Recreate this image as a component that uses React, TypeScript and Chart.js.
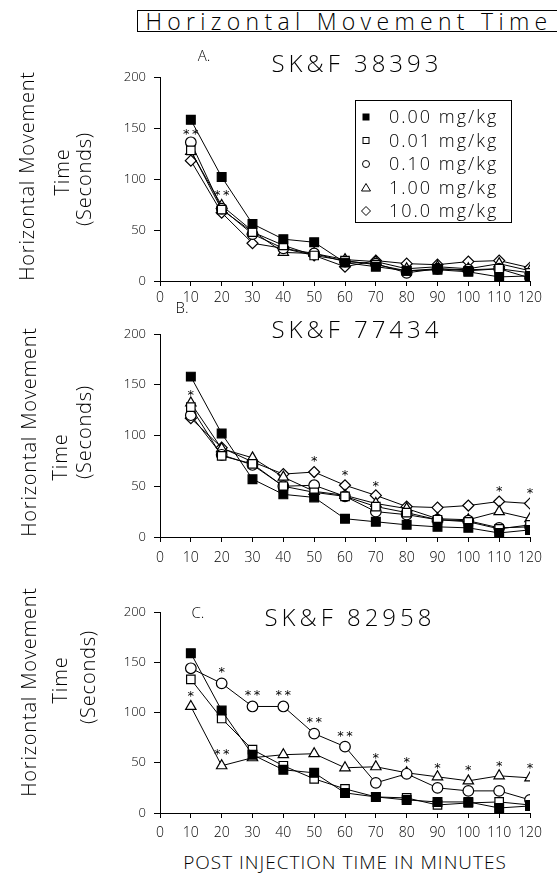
import React, { useEffect, useRef } from 'react';
import { Chart, registerables } from 'chart.js';

Chart.register(...registerables);

// ---------------- DATA ----------------
const TIMES = [10, 20, 30, 40, 50, 60, 70, 80, 90, 100, 110, 120];
const DOSE_LABELS = ['0.00 mg/kg', '0.01 mg/kg', '0.10 mg/kg', '1.00 mg/kg', '10.0 mg/kg'];

// Panel A: SK&F 38393
const A_000 = [158, 102, 56, 41, 38, 18, 14, 10, 11, 9, 4, 5];
const A_001 = [128, 70, 48, 35, 25, 20, 16, 10, 12, 10, 12, 8];
const A_010 = [136, 71, 46, 32, 27, 19, 17, 8, 12, 11, 12, 3];
const A_100 = [127, 74, 49, 28, 27, 21, 19, 12, 14, 12, 17, 10];
const A_1000 = [118, 67, 37, 32, 25, 14, 20, 17, 16, 19, 20, 13];
const A_STARS: [number, number, number][] = [[10, 146, 2], [20, 87, 2]];

// Panel B: SK&F 77434
const B_000 = [158, 102, 57, 42, 39, 18, 15, 12, 10, 9, 4, 7];
const B_001 = [128, 80, 72, 50, 44, 40, 30, 24, 17, 15, 8, 12];
const B_010 = [120, 81, 71, 50, 51, 40, 25, 22, 17, 16, 9, 10];
const B_100 = [132, 87, 78, 59, 45, 41, 33, 28, 18, 17, 25, 18];
const B_1000 = [117, 88, 74, 62, 64, 51, 41, 30, 29, 31, 35, 33];
const B_STARS: [number, number, number][] = [[10, 142, 1], [50, 77, 1], [60, 63, 1], [70, 53, 1], [110, 48, 1], [120, 46, 1]];

// Panel C: SK&F 82958
const C_000 = [159, 102, 58, 43, 40, 20, 16, 13, 11, 11, 5, 7];
const C_001 = [133, 94, 63, 47, 34, 24, 16, 15, 8, 10, 11, 8];
const C_010 = [144, 129, 106, 106, 79, 66, 30, 39, 25, 22, 22, 13];
const C_100 = [106, 47, 55, 58, 59, 45, 46, 40, 36, 32, 37, 35];
const C_STARS: [number, number, number][] = [
  [10, 119, 1], [20, 143, 1], [20, 61, 2], [30, 120, 2], [40, 120, 2], [50, 93, 2], [60, 79, 2],
  [70, 57, 1], [80, 53, 1], [90, 47, 1], [100, 45, 1], [110, 49, 1], [120, 47, 1],
];

const X_MIN = 0, X_MAX = 120, X_STEP = 10;
const Y_MIN = 0, Y_MAX = 200, Y_STEP = 50;

const MAIN_TITLE = 'Horizontal Movement Time';
const PANEL_TITLES = ['SK&F 38393', 'SK&F 77434', 'SK&F 82958'];
const PANEL_LETTERS = ['A.', 'B.', 'C.'];
const Y_TITLE = ['Horizontal Movement', 'Time', '(Seconds)'];
const X_TITLE = 'POST INJECTION TIME IN MINUTES';

// ---------------- STYLE ----------------
const FONT = '"Open Sans", "DejaVu Sans", sans-serif';
const STAR_FONT = '"DejaVu Sans", sans-serif';
const W = 557;
const MARKERS = [
  { style: 'rect', r: 6.2, fill: '#000' },
  { style: 'rect', r: 6, fill: '#fff' },
  { style: 'circle', r: 5.3, fill: '#fff' },
  { style: 'triangle', r: 6, fill: '#fff' },
  { style: 'rectRot', r: 5.5, fill: '#fff' },
];

const starsPlugin = {
  id: 'stars',
  afterDatasetsDraw(chart: any, _args: any, opts: any) {
    const { ctx } = chart;
    const x = chart.scales.x, y = chart.scales.y;
    ctx.save();
    ctx.fillStyle = '#000';
    ctx.font = `13px ${STAR_FONT}`;
    ctx.textAlign = 'center';
    ctx.textBaseline = 'middle';
    for (const [t, v, n] of (opts.items || [])) {
      const px = x.getPixelForValue(t), py = y.getPixelForValue(v);
      for (let k = 0; k < n; k++) ctx.fillText('*', px + (k - (n - 1) / 2) * 9, py + 3);
    }
    ctx.restore();
  },
};

const legendPlugin = {
  id: 'boxLegend',
  afterDraw(chart: any, _args: any, opts: any) {
    if (!opts.show) return;
    const { ctx } = chart;
    const bx = 355, by = opts.top, bw = 156, bh = 122;
    ctx.save();
    ctx.strokeStyle = '#000';
    ctx.lineWidth = 1;
    ctx.fillStyle = '#fff';
    ctx.fillRect(bx, by, bw, bh);
    ctx.strokeRect(bx + 0.5, by + 0.5, bw, bh);
    ctx.font = `300 18px ${FONT}`;
    ctx.textBaseline = 'middle';
    ctx.textAlign = 'left';
    try { (ctx as any).letterSpacing = '2px'; } catch (e) {}
    const mx = 366, tx = 389;
    DOSE_LABELS.forEach((lab, i) => {
      const yy = by + 17 + i * 23.5;
      ctx.fillStyle = '#000';
      ctx.lineWidth = 1;
      ctx.beginPath();
      if (i === 0) ctx.fillRect(mx - 3.5, yy - 3.5, 7, 7);
      else if (i === 1) ctx.strokeRect(mx - 3, yy - 3, 6, 6);
      else if (i === 2) { ctx.arc(mx, yy, 3.5, 0, Math.PI * 2); ctx.stroke(); }
      else if (i === 3) { ctx.moveTo(mx, yy - 4); ctx.lineTo(mx + 4.5, yy + 3.5); ctx.lineTo(mx - 4.5, yy + 3.5); ctx.closePath(); ctx.stroke(); }
      else { ctx.moveTo(mx, yy - 4.5); ctx.lineTo(mx + 4.5, yy); ctx.lineTo(mx, yy + 4.5); ctx.lineTo(mx - 4.5, yy); ctx.closePath(); ctx.stroke(); }
      ctx.fillText(lab, tx, yy + 1);
    });
    ctx.restore();
  },
};

type PanelProps = {
  top: number; height: number; xH: number; xPad: number;
  series: number[][]; stars: [number, number, number][]; legendTop?: number;
};

function Panel({ top, height, xH, xPad, series, stars, legendTop }: PanelProps) {
  const ref = useRef<HTMLCanvasElement>(null);
  useEffect(() => {
    const datasets = series.map((vals, i) => ({
      label: DOSE_LABELS[i],
      data: vals.map((v, j) => ({ x: TIMES[j], y: v })),
      borderColor: '#000',
      borderWidth: 1,
      pointStyle: MARKERS[i].style,
      pointRadius: MARKERS[i].r,
      pointBackgroundColor: MARKERS[i].fill,
      pointBorderColor: '#000',
      pointBorderWidth: 1.2,
      fill: false,
      tension: 0,
    }));
    const chart = new Chart(ref.current as HTMLCanvasElement, {
      type: 'line',
      data: { datasets } as any,
      plugins: [starsPlugin, legendPlugin] as any,
      options: {
        animation: false,
        responsive: false,
        layout: { padding: { top: 20, right: 27, left: 0, bottom: 0 } },
        plugins: {
          legend: { display: false },
          tooltip: { enabled: false },
          stars: { items: stars },
          boxLegend: { show: legendTop !== undefined, top: legendTop },
        } as any,
        scales: {
          x: {
            type: 'linear', min: X_MIN, max: X_MAX,
            ticks: { stepSize: X_STEP, color: '#000', padding: xPad, font: { family: FONT, size: 14, weight: 300 as any }, maxRotation: 0 },
            grid: { drawOnChartArea: false, drawTicks: true, tickLength: 5, color: '#000', lineWidth: 1 },
            border: { display: true, color: '#000', width: 1 },
            afterFit: (s: any) => { s.height = xH; },
          },
          y: {
            type: 'linear', min: Y_MIN, max: Y_MAX,
            ticks: { stepSize: Y_STEP, color: '#000', padding: 8, font: { family: FONT, size: 13, weight: 300 as any } },
            grid: { drawOnChartArea: false, drawTicks: true, tickLength: 6, color: '#000', lineWidth: 1 },
            border: { display: true, color: '#000', width: 1 },
            afterFit: (s: any) => { s.width = 160; },
          },
        },
      } as any,
    });
    return () => chart.destroy();
  }, []);
  return (
    <canvas ref={ref} width={W} height={height}
      style={{ position: 'absolute', left: 0, top, width: W, height }} />
  );
}

function Centered({ x, y, size, text, spacing = 0, rotate = false }: { x: number; y: number; size: number; text: string; spacing?: number; rotate?: boolean }) {
  return (
    <div style={{
      position: 'absolute', color: '#000', whiteSpace: 'nowrap', lineHeight: 1,
      fontFamily: FONT, fontWeight: 300, left: x, top: y, fontSize: size, letterSpacing: spacing,
      transform: `translate(-50%, -50%)${rotate ? ' rotate(-90deg)' : ''}`,
    }}>{text}</div>
  );
}

function YTitle({ xs, ys }: { xs: number[]; ys: number[] }) {
  return (
    <>
      {Y_TITLE.map((t, i) => (
        <Centered key={i} x={xs[i]} y={ys[i]} size={20} spacing={0.8} rotate text={t} />
      ))}
    </>
  );
}

export default function App() {
  return (
    <div style={{ position: 'absolute', left: 0, top: 0, width: W, height: 875, overflow: 'hidden', background: '#fff' }}>
      <div style={{
        position: 'absolute', left: 137, top: 10, width: 440, height: 22, border: '1px solid #000',
        boxSizing: 'border-box',
      }} />
      <Centered x={349} y={21} size={23} spacing={5.3} text={MAIN_TITLE} />

      <Panel top={57} height={254} xH={30} xPad={4}
        series={[A_000, A_001, A_010, A_100, A_1000]} stars={A_STARS} legendTop={43} />
      <Centered x={357} y={63} size={24} spacing={4} text={PANEL_TITLES[0]} />
      <Centered x={204} y={55} size={15} text={PANEL_LETTERS[0]} />
      <YTitle xs={[27, 62, 84]} ys={[176, 172, 179]} />

      <Panel top={314} height={255} xH={32} xPad={8}
        series={[B_000, B_001, B_010, B_100, B_1000]} stars={B_STARS} />
      <Centered x={357} y={329} size={24} spacing={4} text={PANEL_TITLES[1]} />
      <Centered x={182} y={307} size={15} text={PANEL_LETTERS[1]} />
      <YTitle xs={[29, 60, 84]} ys={[432, 457, 432]} />

      <Panel top={592} height={253} xH={32} xPad={7}
        series={[C_000, C_001, C_010, C_100]} stars={C_STARS} />
      <Centered x={350} y={617} size={24} spacing={4} text={PANEL_TITLES[2]} />
      <Centered x={198} y={612} size={15} text={PANEL_LETTERS[2]} />
      <YTitle xs={[29, 60, 88]} ys={[692, 680, 677]} />

      <Centered x={345} y={862} size={19} spacing={1} text={X_TITLE} />
    </div>
  );
}
